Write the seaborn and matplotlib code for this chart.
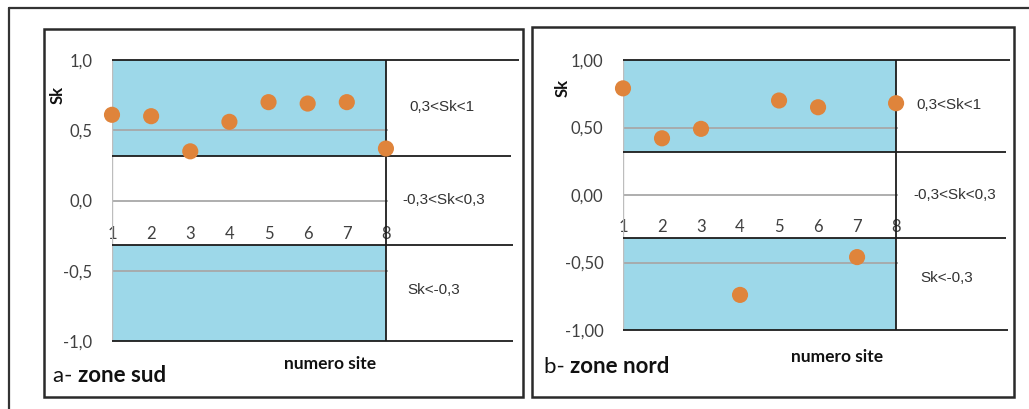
import matplotlib
matplotlib.use("Agg")
import matplotlib.pyplot as plt
from matplotlib.patches import Rectangle
from matplotlib.lines import Line2D
import seaborn as sns
import pandas as pd

# ---------------- data ----------------
sites = [1, 2, 3, 4, 5, 6, 7, 8]
sk_sud = [0.61, 0.60, 0.35, 0.56, 0.70, 0.69, 0.70, 0.37]
sk_nord = [0.79, 0.42, 0.49, -0.74, 0.70, 0.65, -0.46, 0.68]
y_ticks = [-1.0, -0.5, 0.0, 0.5, 1.0]
y_labels_sud = ["-1,0", "-0,5", "0,0", "0,5", "1,0"]
y_labels_nord = ["-1,00", "-0,50", "0,00", "0,50", "1,00"]
class_labels = ["0,3<Sk<1", "-0,3<Sk<0,3", "Sk<-0,3"]
threshold = 0.32
panel_titles = [("a-", "zone sud"), ("b-", "zone nord")]
x_title = "numero site"
y_title = "Sk"

# ---------------- style ----------------
sns.set_style("white")
plt.rcParams["font.family"] = ["Lato", "DejaVu Sans"]
W, H = 1029, 409
BLUE = "#9DD8E9"
ORANGE = "#DF843B"
DARK = "#1c1c1c"
GRID = "#A8A8A8"
TXT = "#404040"

fig = plt.figure(figsize=(W / 100, H / 100), dpi=100)


def fx(p):
    return p / W


def fy(p):
    return 1 - p / H


def panel(vals, ylabels, left, right, top, bottom, xmax, line_ends,
          label_pos, xt_center, xt_y, title_x, title_y, sk_x, sk_y,
          frame, title):
    ax = fig.add_axes([fx(left), fy(bottom), (right - left) / W, (bottom - top) / H])
    ax.set_xlim(1, xmax)
    ax.set_ylim(-1, 1)
    ax.patch.set_alpha(0)
    # coloured bands
    ax.fill_between([1, 8], threshold, 1.0, color=BLUE, lw=0, zorder=0)
    ax.fill_between([1, 8], -1.0, -threshold, color=BLUE, lw=0, zorder=0)
    # grid lines
    ax.hlines([0.5, 0.0, -0.5], 1, 8.05, color=GRID, lw=1.3, zorder=1)
    ax.vlines(1, -1, 1, color="#BDBDBD", lw=1.0, zorder=1)
    # black table lines
    for yv, xe in zip([1.0, threshold, -threshold, -1.0], line_ends):
        ax.hlines(yv, 1, xe, color=DARK, lw=1.3, zorder=2, clip_on=False)
    ax.vlines(8, -1, 1, color=DARK, lw=1.3, zorder=2)
    # points
    df = pd.DataFrame({"site": sites, "sk": vals})
    sns.scatterplot(data=df, x="site", y="sk", ax=ax, color=ORANGE, s=135,
                    edgecolor="none", zorder=5, clip_on=False, legend=False)
    ax.set_xlabel("")
    ax.set_ylabel("")
    # ticks
    ax.set_yticks(y_ticks)
    ax.set_yticklabels(ylabels)
    ax.set_xticks(sites)
    ax.set_xticklabels([str(s) for s in sites])
    for s in ax.spines.values():
        s.set_visible(False)
    ax.spines["bottom"].set_position(("data", -0.24))
    ax.tick_params(axis="y", length=0, pad=14, labelsize=12, labelcolor=TXT)
    ax.tick_params(axis="x", length=0, pad=0, labelsize=12, labelcolor=TXT)
    for t in ax.xaxis.get_major_ticks():
        t.label1.set_verticalalignment("center")
    # class labels
    for (lx, ly), txt in zip(label_pos, class_labels):
        ax.text(lx, ly, txt, ha="left", va="center", fontsize=11,
                family=["Liberation Sans", "DejaVu Sans"], color="#333333")
    # texts in figure
    fig.text(fx(xt_center), fy(xt_y), x_title, ha="center", va="center",
             fontsize=12.5, fontweight="bold", color="#111111")
    fig.text(fx(sk_x), fy(sk_y), y_title, ha="center", va="center",
             rotation=90, fontsize=12, fontweight="bold", color="#111111")
    t1 = fig.text(fx(title_x), fy(title_y), title[0] + " ", ha="left",
                  va="baseline", fontsize=16, color="#111111")
    ax.annotate(title[1], xy=(1, 0), xycoords=t1, ha="left",
                va="bottom", fontsize=16, fontweight="bold",
                color="#111111", annotation_clip=False)
    # panel frame
    fx0, fy0, fx1, fy1 = frame
    fig.add_artist(Rectangle((fx(fx0), fy(fy1)), (fx1 - fx0) / W, (fy1 - fy0) / H,
                             transform=fig.transFigure, fill=False,
                             edgecolor="#2a2a2a", lw=1.8))
    return ax


# panel a
ax_a = panel(sk_sud, y_labels_sud, 112, 519, 60, 341, 11.40,
             [11.40, 11.19, 11.24, 11.24],
             [(8.61, 0.665), (8.43, 0.0), (8.54, -0.64)],
             330, 364, 53, 382, 58, 95, (44, 29, 523, 397), panel_titles[0])
# panel b
ax_b = panel(sk_nord, y_labels_nord, 623, 1010, 60, 330, 10.92,
             [10.92, 10.82, 10.82, 10.87],
             [(8.51, 0.667), (8.44, 0.0), (8.62, -0.615)],
             837, 357, 544, 373, 563, 88, (532, 27, 1014, 397), panel_titles[1])

# outer frame
fig.add_artist(Line2D([fx(9), fx(9)], [fy(8), 0], transform=fig.transFigure,
                      color="#333333", lw=1.6))
fig.add_artist(Line2D([fx(9), 1], [fy(8), fy(8)], transform=fig.transFigure,
                      color="#333333", lw=1.6))

fig.savefig("out.png", dpi=100, facecolor="white")
